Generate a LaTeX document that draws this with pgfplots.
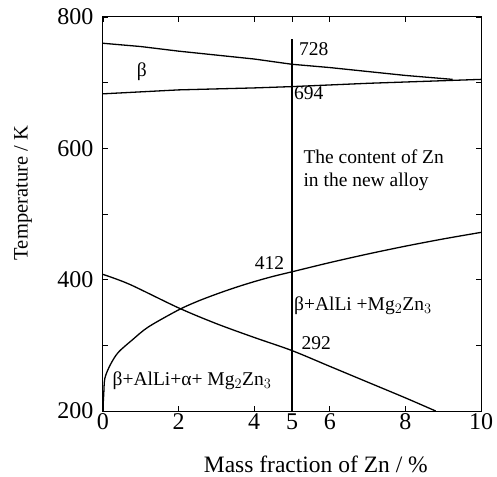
\documentclass[border=0pt]{standalone}
\usepackage{pgfplots}
\pgfplotsset{compat=1.18}
\usepackage{fontspec}
\setmainfont{Liberation Serif}

\begin{document}
\begin{tikzpicture}
\begin{axis}[
  scale only axis,
  width=378pt, height=394pt,
  xmin=0, xmax=10, ymin=200, ymax=800,
  xtick={0,2,4,5,6,8,10},
  ytick={200,400,600,800},
  minor ytick={300,500,700},
  tick align=inside,
  major tick length=5pt, minor tick length=5pt,
  axis line style={line width=1pt},
  every tick/.style={line width=0.9pt, black},
  /pgf/number format/assume math mode=true,
  ticklabel style={font=\fontsize{24}{24}\selectfont},
  yticklabel style={xshift=-6pt},
  xticklabel style={yshift=1pt},
  xlabel={Mass fraction of Zn / \%},
  ylabel={Temperature / K},
  xlabel style={font=\fontsize{23.5}{23.5}\selectfont, at={(axis description cs:0.563,0)}, anchor=base, yshift=-61pt},
  ylabel style={font=\fontsize{20.5}{20.5}\selectfont, at={(axis description cs:0,0.553)}, anchor=center, yshift=80pt},
  clip=false,
]
% upper boundary of the beta field
\addplot[black, line width=1.3pt] coordinates {(0,760) (1,755) (2,748) (3,742) (4,736) (5,728) (6,723) (7,717) (8,711) (9.25,705)};
% lower boundary of the beta field
\addplot[black, line width=1.3pt] coordinates {(0,683) (2,689) (4,692) (5,694) (7,699) (10,705)};
% Mg2Zn3 solvus
\addplot[black, line width=1.3pt, smooth] coordinates {(0,205) (0.02,226) (0.05,250) (0.19,270) (0.4,289) (0.77,308) (1.2,328) (2,354) (2.5,367) (3,378) (3.5,388) (4,397) (4.5,405) (5,412) (6,426) (7,439) (8,451) (9,462) (10,472)};
% alpha solvus
\addplot[black, line width=1.3pt, smooth] coordinates {(0,408) (0.7,393) (2,357) (3,333) (4,312) (5,292) (6,268) (7,244) (8,220) (8.8,200)};
% composition of the new alloy
\addplot[black, line width=1.3pt] coordinates {(5,200) (5,767)};

\begin{scope}[every node/.style={font=\fontsize{19.5}{23}\selectfont, inner sep=0pt}]
\node at (axis cs:1.03,716) {β};
\node[anchor=west] at (axis cs:5.18,751) {728};
\node[anchor=west] at (axis cs:5.05,684) {694};
\node[anchor=north west, align=left] at (axis cs:5.3,598) {The content of Zn\\in the new alloy};
\node[anchor=east] at (axis cs:4.8,426) {412};
\node[anchor=west] at (axis cs:5.05,360) {β+AlLi +Mg$_2$Zn$_3$};
\node[anchor=west] at (axis cs:5.25,304) {292};
\node[anchor=west] at (axis cs:0.25,246) {β+AlLi+α+ Mg$_2$Zn$_3$};
\end{scope}
\end{axis}
\path (current axis.south west) ++(-103pt,-65pt) rectangle ++(497pt,476pt);
\end{tikzpicture}
\end{document}
